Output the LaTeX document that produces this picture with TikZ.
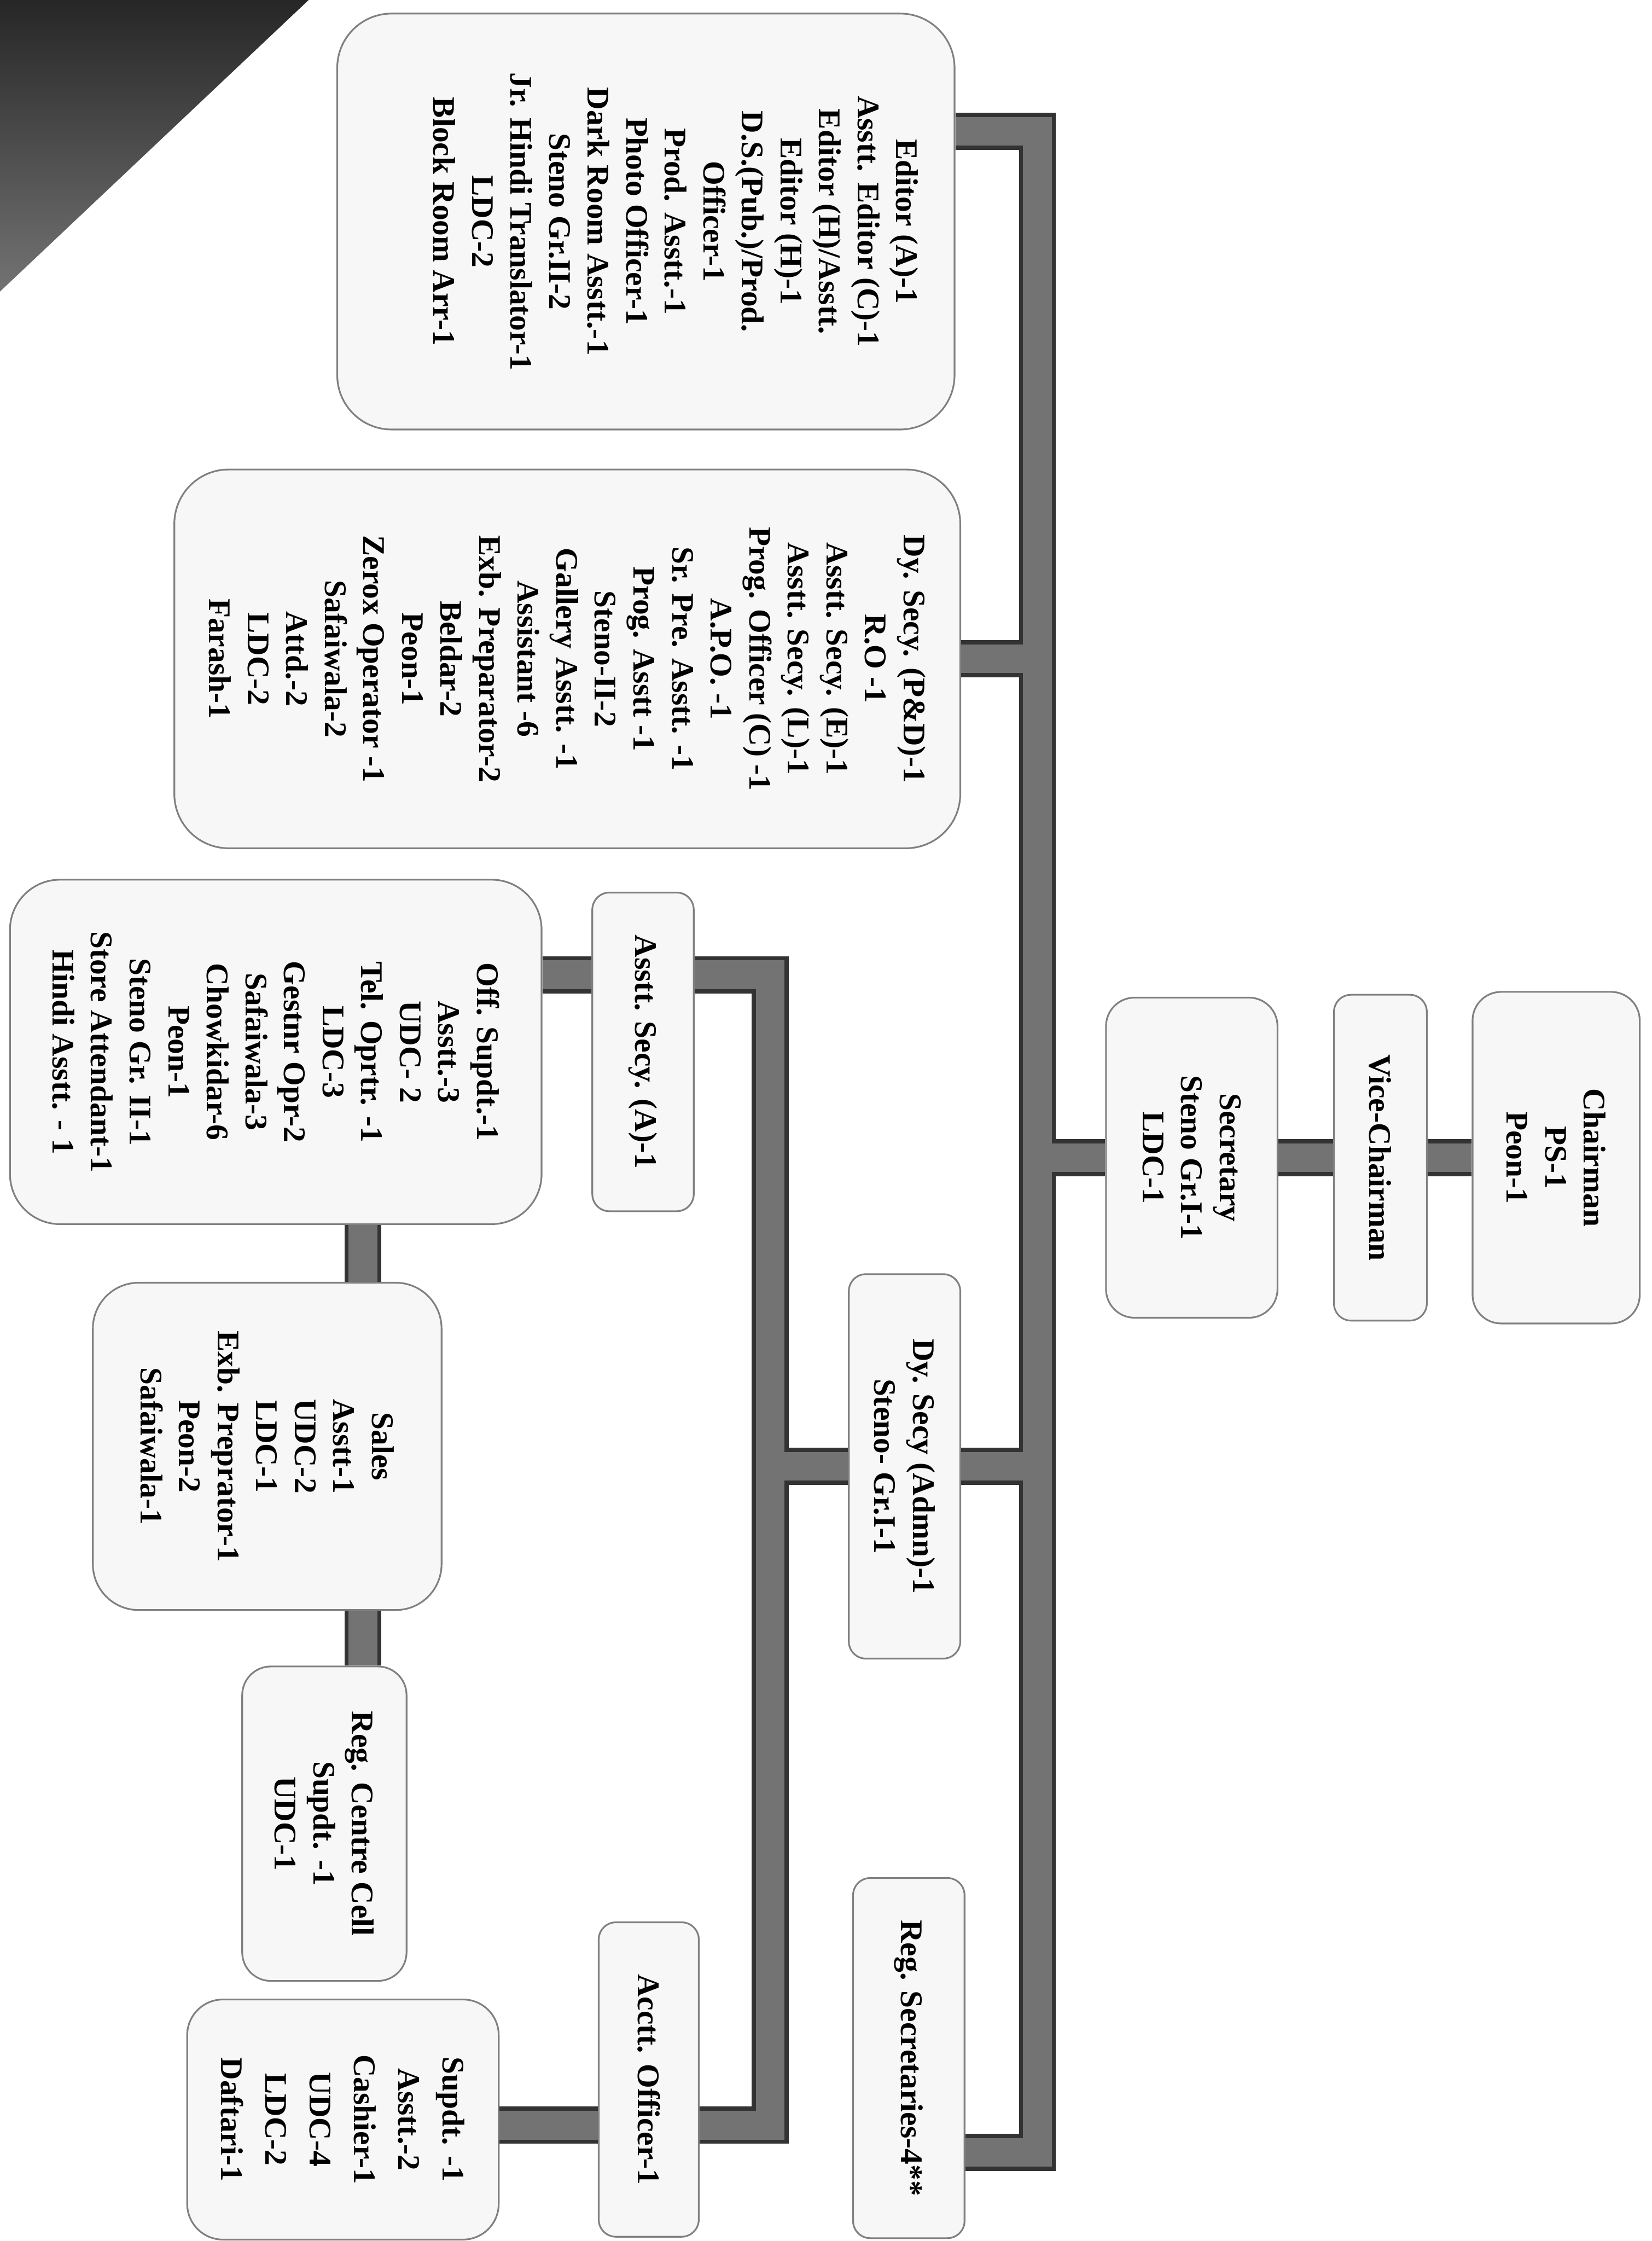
\documentclass[tikz,border=0pt]{standalone}
\usepackage{fontspec}
\setmainfont{Liberation Serif}
\begin{document}
\begin{tikzpicture}[x=1pt, y=-1pt,
    post/.style={draw=black!50, line width=1.2pt, fill=black!3, rotate=-90,
        align=center, inner sep=0pt, font=\bfseries\fontsize{22}{27}\selectfont},
    bar/.style={draw=black!80, line width=3pt, double=black!55,
        double distance=20pt, line join=miter}]
    \useasboundingbox (0,0) rectangle (1156,1568);

    % folded corner of the scanned sheet
    \shade[top color=black!85, bottom color=black!55]
        (0,0) -- (216,0) -- (0,204) -- cycle;

    \node[post, minimum width=291pt, minimum height=432pt, rounded corners=38pt]
        (editor) at (452,155) {Editor (A)-1\\Asstt. Editor (C)-1\\Editor (H)/Asstt.\\
        Editor (H)-1\\D.S.(Pub.)/Prod.\\Officer-1\\Prod. Asstt.-1\\Photo Officer-1\\
        Dark Room Asstt.-1\\Steno Gr.II-2\\Jr. Hindi Translator-1\\LDC-2\\
        Block Room Arr-1\\[15pt]\mbox{}};
    \node[post, minimum width=265pt, minimum height=550pt, rounded corners=38pt]
        (pd) at (397,461) {Dy. Secy. (P\&D)-1\\R.O -1\\Asstt. Secy. (E)-1\\
        Asstt. Secy. (L)-1\\Prog. Officer (C) -1\\A.P.O. -1\\Sr. Pre. Asstt. -1\\
        Prog. Asstt -1\\Steno-II-2\\Gallery Asstt. -1\\Assistant -6\\
        Exb. Preparator-2\\Beldar-2\\Peon-1\\Zerox Operator -1\\Safaiwala-2\\
        Attd.-2\\LDC-2\\Farash-1};
    \node[post, minimum width=232pt, minimum height=117pt, rounded corners=20pt]
        (chair) at (1089,810) {Chairman\\PS-1\\Peon-1};
    \node[post, minimum width=228pt, minimum height=65pt, rounded corners=12pt]
        (vice) at (966,810) {Vice-Chairman};
    \node[post, minimum width=224pt, minimum height=120pt, rounded corners=20pt]
        (secy) at (834,810) {Secretary\\Steno Gr.I-1\\LDC-1};
    \node[post, minimum width=223pt, minimum height=71pt, rounded corners=12pt]
        (asstA) at (450,736) {Asstt. Secy. (A)-1};
    \node[post, minimum width=241pt, minimum height=372pt, rounded corners=35pt]
        (offsupdt) at (193,736) {Off. Supdt.-1\\Asstt.-3\\UDC- 2\\Tel. Oprtr. -1\\
        LDC-3\\Gestnr Opr-2\\Safaiwala-3\\Chowkidar-6\\Peon-1\\Steno Gr. II-1\\
        Store Attendant-1\\Hindi Asstt. - 1};
    \node[post, minimum width=229pt, minimum height=244pt, rounded corners=32pt]
        (sales) at (187,1012) {Sales\\Asstt-1\\UDC-2\\LDC-1\\Exb. Preprator-1\\
        Peon-2\\Safaiwala-1};
    \node[post, minimum width=269pt, minimum height=78pt, rounded corners=12pt]
        (dyadmn) at (633,1026) {Dy. Secy (Admn)-1\\Steno- Gr.I-1};
    \node[post, minimum width=220pt, minimum height=115pt, rounded corners=20pt]
        (regcentre) at (227,1276) {Reg. Centre Cell\\Supdt. -1\\UDC-1};
    \node[post, minimum width=252pt, minimum height=78pt, rounded corners=12pt]
        (regsec) at (636,1440) {Reg. Secretaries-4**};
    \node[post, minimum width=220pt, minimum height=70pt, rounded corners=12pt]
        (acctt) at (454,1455) {Acctt. Officer-1};
    \node[post, minimum width=168pt, minimum height=218pt, rounded corners=25pt,
        font=\bfseries\fontsize{22}{31}\selectfont]
        (supdt) at (240,1483) {Supdt. -1\\Asstt.-2\\Cashier-1\\UDC-4\\LDC-2\\Daftari-1};

    \coordinate (mtop) at (726,92);
    \coordinate (mbot) at (726,1506);
    \coordinate (stop) at (539,682);
    \coordinate (sbot) at (539,1487);
    \coordinate (scol) at (254,1012);

    \draw[bar]
        (editor.north |- mtop) -- (mtop) -- (mbot) -- (regsec.north |- mbot)
        (pd.north) -- (pd.north -| mtop)
        (secy.south) -- (secy.south -| mtop)
        (secy.north) -- (vice.south)
        (vice.north) -- (chair.south)
        (dyadmn.north) -- (dyadmn.north -| mtop)
        (dyadmn.south) -- (dyadmn.south -| stop)
        (asstA.north |- stop) -- (stop) -- (sbot) -- (acctt.north |- sbot)
        (offsupdt.north |- stop) -- (asstA.south |- stop)
        (supdt.north |- sbot) -- (acctt.south |- sbot)
        (offsupdt.east -| scol) -- (sales.west -| scol)
        (sales.east -| scol) -- (regcentre.west -| scol);
\end{tikzpicture}
\end{document}
